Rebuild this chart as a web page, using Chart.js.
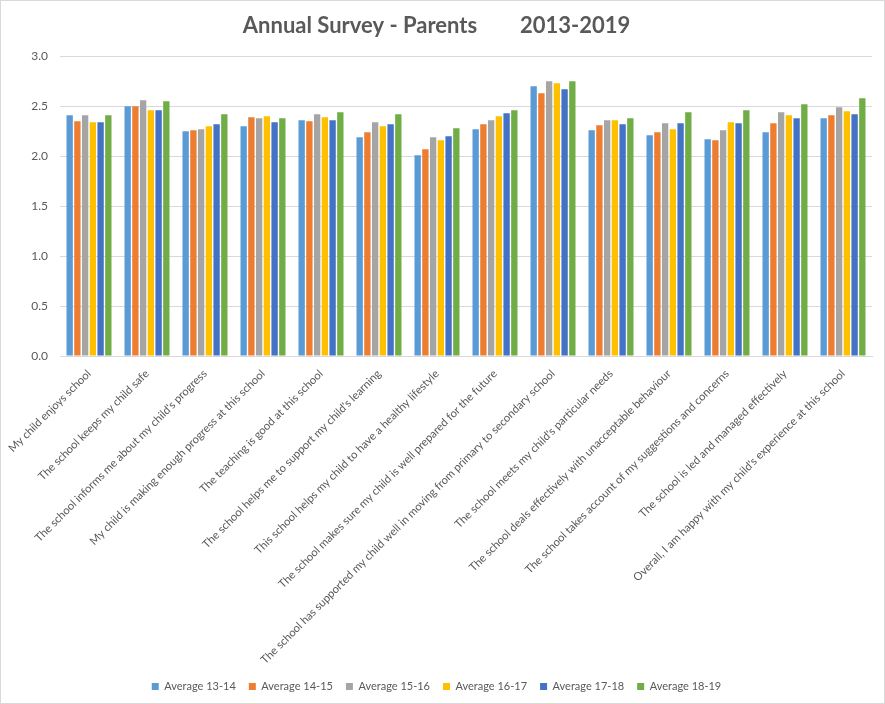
<!DOCTYPE html>
<html>
<head>
<meta charset="utf-8">
<script src="https://cdn.jsdelivr.net/npm/chart.js@4/dist/chart.umd.min.js"></script>
<style>
  html, body { margin: 0; padding: 0; background: #fff; }
  #wrap { width: 885px; height: 704px; box-sizing: border-box; border: 1px solid #d9d9d9; position: relative; }
  canvas { display: block; }
</style>
</head>
<body>
<div id="wrap"><canvas id="chart" width="883" height="702"></canvas></div>
<script>
const questions = [
  "My child enjoys school",
  "The school keeps my child safe",
  "The school informs me about my child's progress",
  "My child is making enough progress at this school",
  "The teaching is good at this school",
  "The school helps me to support my child's learning",
  "This school helps my child to have a healthy lifestyle",
  "The school makes sure my child is well prepared for the future",
  "The school has supported my child well in moving from primary to secondary school",
  "The school meets my child's particular needs",
  "The school deals effectively with unacceptable behaviour",
  "The school takes account of my suggestions and concerns",
  "The school is led and managed effectively",
  "Overall, I am happy with my child's experience at this school"
];

const seriesNames = ["Average 13-14", "Average 14-15", "Average 15-16", "Average 16-17", "Average 17-18", "Average 18-19"];

const avg1314 = [2.41, 2.50, 2.25, 2.30, 2.36, 2.19, 2.01, 2.27, 2.70, 2.26, 2.21, 2.17, 2.24, 2.38];
const avg1415 = [2.35, 2.50, 2.26, 2.39, 2.35, 2.24, 2.07, 2.32, 2.63, 2.31, 2.24, 2.16, 2.33, 2.41];
const avg1516 = [2.41, 2.56, 2.27, 2.38, 2.42, 2.34, 2.19, 2.36, 2.75, 2.36, 2.33, 2.26, 2.44, 2.49];
const avg1617 = [2.34, 2.46, 2.30, 2.40, 2.39, 2.30, 2.16, 2.40, 2.73, 2.36, 2.27, 2.34, 2.41, 2.45];
const avg1718 = [2.34, 2.46, 2.32, 2.34, 2.36, 2.32, 2.20, 2.43, 2.67, 2.32, 2.33, 2.33, 2.38, 2.42];
const avg1819 = [2.41, 2.55, 2.42, 2.38, 2.44, 2.42, 2.28, 2.46, 2.75, 2.38, 2.44, 2.46, 2.52, 2.58];

const yTicks = [0, 0.5, 1.0, 1.5, 2.0, 2.5, 3.0];

const colors = ["#5b9bd5", "#ed7d31", "#a5a5a5", "#ffc000", "#4472c4", "#70ad47"];
const allSeries = [avg1314, avg1415, avg1516, avg1617, avg1718, avg1819];

const textGrey = "#595959";
const fontFam = "Lato, 'Liberation Sans', sans-serif";

const ctx = document.getElementById("chart").getContext("2d");
new Chart(ctx, {
  type: "bar",
  data: {
    labels: questions,
    datasets: allSeries.map((vals, i) => ({
      label: seriesNames[i],
      data: vals,
      backgroundColor: colors[i],
      borderWidth: 0,
      categoryPercentage: 0.8,
      barPercentage: 0.82
    }))
  },
  options: {
    responsive: false,
    animation: false,
    layout: { padding: { left: 0, right: 12, top: 0, bottom: 1 } },
    plugins: {
      title: {
        display: true,
        text: "Annual Survey - Parents        2013-2019",
        color: textGrey,
        font: { family: fontFam, size: 22, weight: "bold" },
        padding: { top: 12, bottom: 17 }
      },
      legend: {
        position: "bottom",
        labels: {
          color: textGrey,
          font: { family: fontFam, size: 11 },
          boxWidth: 7,
          boxHeight: 7,
          padding: 13
        }
      },
      tooltip: { enabled: false }
    },
    scales: {
      x: {
        grid: { display: false },
        border: { display: true, color: "#d9d9d9" },
        ticks: {
          color: textGrey,
          font: { family: fontFam, size: 11.2 },
          minRotation: 45,
          maxRotation: 45,
          autoSkip: false,
          padding: 3
        },
        afterFit: s => { s.height = 312; }
      },
      y: {
        min: 0,
        max: 3,
        afterBuildTicks: s => { s.ticks = yTicks.map(v => ({ value: v })); },
        grid: { color: "#d9d9d9", drawTicks: false },
        border: { display: false },
        ticks: {
          color: textGrey,
          font: { family: fontFam, size: 12 },
          padding: 12,
          callback: v => Number(v).toFixed(1)
        },
        afterFit: s => { s.width = 59; }
      }
    }
  }
});
</script>
</body>
</html>
